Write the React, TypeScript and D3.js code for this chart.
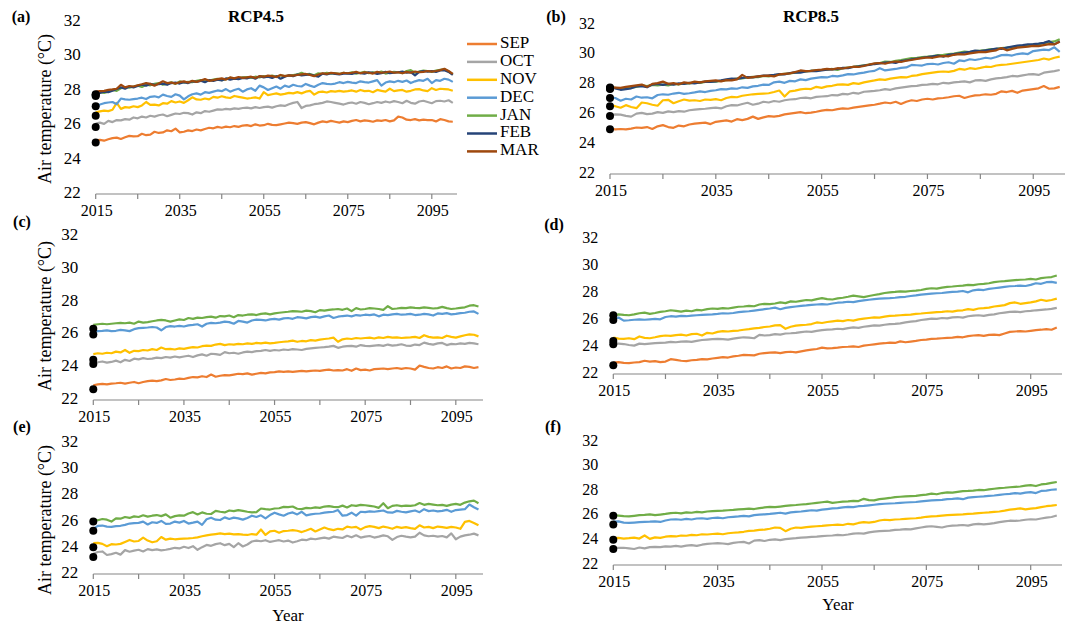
import React from "react";
import * as d3 from "d3";

// ---------- categories ----------
const YEARS: number[] = d3.range(2015, 2101);
const MONTHS = ["SEP", "OCT", "NOV", "DEC", "JAN", "FEB", "MAR"];
const COLORS: Record<string, string> = {
  SEP: "#ED7D31", OCT: "#A5A5A5", NOV: "#FFC000", DEC: "#5B9BD5",
  JAN: "#70AD47", FEB: "#264478", MAR: "#9E480E",
};
const Y_TICKS = [22, 24, 26, 28, 30, 32];
const X_TICKS = [2015, 2025, 2035, 2045, 2055, 2065, 2075, 2085, 2095];
const X_LABELS = [2015, 2035, 2055, 2075, 2095];

// ---------- observed values (black dots at 2015) ----------
const OBS_TOP: Record<string, number> = { SEP: 25.0, OCT: 25.9, NOV: 26.55, DEC: 27.1, JAN: 27.8, FEB: 27.7, MAR: 27.75 };
const OBS_MID: Record<string, number> = { SEP: 22.65, OCT: 24.2, NOV: 24.45, DEC: 26.0, JAN: 26.35 };
const OBS_BOT: Record<string, number> = { OCT: 23.3, NOV: 24.05, DEC: 25.3, JAN: 26.0 };

// ---------- (a) RCP4.5 ----------
const A_SEP = [25.12,25.15,25.10,25.18,25.25,25.28,25.20,25.30,25.38,25.35,
25.36,25.50,25.42,25.45,25.62,25.55,25.58,25.70,25.65,25.80,
25.58,25.62,25.70,25.66,25.75,25.70,25.78,25.85,25.82,25.90,
25.85,25.92,25.88,25.95,25.90,25.98,26.00,25.95,26.05,25.98,
26.00,26.08,26.02,26.00,26.05,26.10,26.15,26.12,26.08,26.15,
26.18,26.12,26.05,26.15,26.22,26.18,26.25,26.20,26.15,26.22,
26.18,26.25,26.30,26.22,26.28,26.25,26.20,26.28,26.25,26.30,
26.22,26.28,26.50,26.45,26.32,26.30,26.35,26.28,26.32,26.30,
26.30,26.22,26.35,26.30,26.22,26.20];
const A_OCT = [26.10,26.15,26.08,26.25,26.18,26.30,26.28,26.35,26.32,26.45,
26.40,26.50,26.45,26.55,26.50,26.58,26.62,26.52,26.60,26.68,
26.65,26.72,26.70,26.62,26.75,26.70,26.82,26.78,26.85,26.92,
26.90,26.95,26.92,26.98,26.95,27.00,27.02,26.98,27.05,27.00,
27.05,27.08,27.02,27.10,27.15,27.12,27.22,27.30,27.35,27.00,
27.12,27.15,27.22,27.25,27.30,27.38,27.35,27.30,27.25,27.20,
27.28,27.32,27.25,27.35,27.30,27.22,27.28,27.35,27.30,27.38,
27.32,27.40,27.35,27.28,27.42,27.30,27.25,27.38,27.42,27.35,
27.28,27.40,27.42,27.38,27.45,27.30];
const A_NOV = [26.75,26.80,26.85,26.82,26.90,27.30,26.95,27.05,27.02,27.10,
27.05,27.15,27.35,27.18,27.20,27.15,27.28,27.25,27.40,27.32,
27.38,27.30,27.45,27.62,27.50,27.48,27.55,27.50,27.65,27.60,
27.68,27.62,27.58,27.70,27.65,27.60,27.55,27.58,27.62,27.55,
27.92,27.75,27.80,27.85,27.78,27.82,27.88,27.85,27.92,27.85,
27.95,28.00,27.78,27.92,27.95,27.90,27.98,27.95,28.00,27.95,
27.98,28.02,27.95,28.05,27.98,28.00,27.92,28.05,28.00,27.95,
28.12,27.98,28.02,28.05,27.95,28.00,28.08,28.10,28.02,27.98,
28.15,28.05,28.12,28.10,28.08,28.00];
const A_DEC = [27.15,27.20,27.28,27.32,27.35,27.22,27.55,27.50,27.48,27.52,
27.55,27.60,27.52,27.65,27.68,27.62,27.78,27.70,27.65,27.80,
27.72,27.50,27.68,27.80,27.85,27.78,27.92,27.88,27.95,28.02,
27.98,28.10,27.95,28.05,28.12,27.95,28.08,28.15,28.00,28.30,
28.20,28.05,28.15,28.25,28.12,28.30,28.22,28.35,28.28,28.25,
28.40,28.30,28.22,28.35,28.45,28.40,28.38,28.42,28.50,28.45,
28.52,28.48,28.45,28.55,28.50,28.48,28.55,28.62,28.30,28.48,
28.55,28.50,28.58,28.52,28.60,28.45,28.55,28.62,28.58,28.70,
28.45,28.62,28.58,28.70,28.65,28.52];
const A_JAN = [27.85,27.92,27.88,27.95,28.05,28.00,28.15,28.22,28.18,28.25,
28.30,28.22,28.35,28.32,28.40,28.45,28.35,28.42,28.50,28.40,
28.55,28.48,28.52,28.50,28.58,28.62,28.55,28.60,28.65,28.70,
28.62,28.68,28.75,28.70,28.72,28.78,28.80,28.75,28.82,28.78,
28.85,28.80,28.88,28.82,28.90,28.85,28.88,28.92,28.95,29.05,
28.95,28.98,28.90,29.02,28.98,29.05,29.00,29.02,28.98,29.05,
29.02,29.08,29.00,29.05,29.10,29.02,29.08,29.05,29.12,29.00,
29.05,29.10,29.08,29.02,29.15,29.20,29.05,29.12,29.18,29.15,
29.10,29.18,29.22,29.25,29.12,28.95];
const A_FEB = [27.90,27.88,27.95,27.92,28.00,28.10,28.20,28.12,28.25,28.20,
28.28,28.35,28.30,28.40,28.35,28.38,28.42,28.35,28.45,28.48,
28.42,28.50,28.45,28.55,28.52,28.58,28.50,28.62,28.58,28.65,
28.60,28.72,28.65,28.70,28.68,28.75,28.72,28.80,28.70,28.85,
28.78,28.82,28.75,28.85,28.70,28.82,28.90,28.85,28.95,28.90,
28.92,28.95,28.88,28.82,29.00,28.95,29.02,28.98,28.95,29.00,
29.00,28.98,29.05,29.02,29.00,29.08,29.05,28.98,29.02,29.10,
29.02,29.05,29.08,29.12,29.05,29.08,28.90,29.10,29.15,29.12,
29.15,29.10,29.18,29.20,29.10,28.92];
const A_MAR = [27.95,27.98,28.00,28.05,28.08,28.12,28.35,28.20,28.28,28.25,
28.32,28.38,28.45,28.40,28.30,28.42,28.55,28.45,28.48,28.42,
28.50,28.55,28.48,28.58,28.52,28.60,28.68,28.58,28.62,28.68,
28.72,28.65,28.78,28.72,28.80,28.75,28.78,28.82,28.75,28.85,
28.82,28.88,28.85,28.80,28.92,28.85,28.90,28.88,28.92,28.95,
28.98,28.92,28.85,28.95,29.02,28.98,29.05,29.02,28.98,29.05,
29.02,29.05,29.10,29.02,29.08,29.05,29.00,29.10,29.05,29.08,
29.12,29.05,29.08,29.02,29.10,29.05,29.12,29.08,29.10,29.15,
29.12,29.15,29.20,29.28,29.15,28.98];

// ---------- (b) RCP8.5 ----------
const B_SEP = [25.05,25.00,25.02,25.00,25.05,25.12,25.10,25.15,25.02,25.20,
25.28,25.15,25.10,25.25,25.20,25.32,25.38,25.42,25.45,25.35,
25.50,25.55,25.60,25.52,25.68,25.62,25.70,25.85,25.70,25.80,
25.88,25.85,25.90,26.00,26.05,26.10,26.15,26.08,26.12,26.18,
26.25,26.30,26.28,26.35,26.40,26.38,26.45,26.50,26.55,26.60,
26.65,26.72,26.80,26.75,26.85,26.70,26.85,26.95,26.90,27.00,
27.05,27.00,27.08,27.10,27.15,27.22,27.25,27.10,27.20,27.28,
27.30,27.35,27.32,27.38,27.55,27.50,27.58,27.45,27.60,27.65,
27.70,27.75,27.90,27.72,27.75,27.85];
const B_OCT = [25.92,26.00,25.98,25.90,25.85,26.05,26.10,26.02,26.05,26.15,
26.10,26.20,26.15,26.22,26.18,26.28,26.32,26.35,26.38,26.42,
26.45,26.40,26.55,26.62,26.60,26.70,26.78,26.65,26.72,26.85,
26.80,26.90,26.85,26.95,27.00,27.02,27.10,27.12,27.08,27.18,
27.20,27.22,27.30,27.28,27.38,27.35,27.45,27.40,27.52,27.55,
27.58,27.62,27.70,27.65,27.75,27.80,27.85,27.90,27.92,27.98,
28.00,28.05,28.02,28.12,28.08,28.15,28.18,28.22,28.15,28.28,
28.30,28.25,28.35,28.42,28.45,28.50,28.58,28.55,28.62,28.68,
28.70,28.65,28.80,28.85,28.90,28.98];
const B_NOV = [26.60,26.55,26.45,26.62,26.50,26.42,26.80,26.75,26.65,26.58,
26.95,26.98,26.75,26.88,27.00,26.92,26.95,26.90,27.00,26.98,
27.02,26.95,27.10,27.18,27.15,27.25,27.30,27.35,27.38,27.40,
27.42,27.50,27.60,27.20,27.55,27.60,27.68,27.72,27.70,27.85,
27.78,27.88,27.92,28.00,28.02,27.98,28.10,28.05,28.15,28.22,
28.28,28.35,28.32,28.40,28.45,28.50,28.48,28.58,28.62,28.70,
28.75,28.80,28.85,28.88,28.85,28.92,29.05,29.00,29.10,29.05,
29.12,29.20,29.18,29.28,29.32,29.35,29.40,29.45,29.50,29.55,
29.60,29.65,29.75,29.68,29.80,29.88];
const B_DEC = [27.15,27.10,26.92,27.05,27.00,27.20,27.12,27.15,27.08,27.30,
27.35,27.32,27.40,27.45,27.38,27.42,27.48,27.55,27.50,27.58,
27.62,27.70,27.68,27.75,27.72,27.82,27.78,27.88,27.92,28.00,
27.98,28.15,28.20,28.12,28.25,28.22,28.35,28.30,28.40,28.45,
28.50,28.48,28.58,28.55,28.62,28.70,28.68,28.75,28.80,28.88,
28.92,29.10,28.95,29.00,29.05,29.12,29.15,29.32,29.30,29.28,
29.38,29.40,29.35,29.45,29.50,29.40,29.62,29.58,29.70,29.65,
29.72,29.80,29.75,29.85,29.98,30.00,29.95,30.05,30.10,30.05,
30.25,30.30,30.35,30.32,30.50,30.20];
const B_JAN = [27.80,27.78,27.72,27.75,27.80,27.85,27.95,27.90,27.98,27.95,
28.00,27.95,28.05,28.02,28.10,28.08,28.15,28.12,28.18,28.22,
28.20,28.25,28.30,28.35,28.40,28.42,28.48,28.52,28.50,28.58,
28.55,28.62,28.68,28.72,28.75,28.80,28.85,28.88,28.92,28.95,
28.98,29.00,29.05,28.98,29.10,29.15,29.20,29.25,29.30,29.35,
29.40,29.45,29.55,29.52,29.60,29.65,29.72,29.78,29.80,29.85,
29.88,29.92,29.98,30.00,30.05,30.08,30.15,30.22,30.18,30.25,
30.28,30.32,30.38,30.40,30.45,30.48,30.52,30.55,30.60,30.62,
30.68,30.72,30.78,30.85,30.90,31.05];
const B_FEB = [27.85,27.75,27.65,27.70,27.75,27.88,27.90,27.82,28.00,28.05,
27.98,28.05,28.00,28.08,28.05,28.12,28.08,28.15,28.20,28.18,
28.22,28.28,28.35,28.40,28.38,28.45,28.50,28.48,28.55,28.60,
28.62,28.65,28.70,28.68,28.78,28.82,28.80,28.88,28.92,28.90,
28.95,29.00,29.02,29.05,29.12,29.10,29.18,29.22,29.28,29.32,
29.38,29.42,29.48,29.50,29.45,29.58,29.62,29.70,29.75,29.80,
29.85,29.90,29.95,29.88,30.00,30.05,30.10,30.15,30.20,30.28,
30.25,30.30,30.35,30.42,30.40,30.48,30.55,30.62,30.65,30.70,
30.72,30.75,30.80,30.92,30.70,30.90];
const B_MAR = [27.82,27.80,27.78,27.85,27.90,27.95,28.00,27.85,28.05,28.10,
28.20,28.05,28.10,28.02,28.15,28.10,28.20,28.15,28.22,28.25,
28.28,28.22,28.30,28.28,28.35,28.65,28.45,28.50,28.55,28.58,
28.60,28.55,28.68,28.72,28.75,28.85,28.95,28.90,28.92,28.98,
29.00,29.05,29.02,29.10,29.08,29.15,29.20,29.18,29.25,29.35,
29.42,29.45,29.40,29.50,29.55,29.52,29.60,29.65,29.72,29.78,
29.82,29.80,29.88,29.92,29.90,30.00,30.05,30.02,30.10,30.15,
30.20,30.18,30.25,30.30,30.45,30.30,30.40,30.48,30.52,30.55,
30.60,30.58,30.65,30.72,30.70,30.88];

// ---------- (c) RCP4.5 ----------
const C_SEP = [22.90,22.95,22.98,22.95,23.00,23.02,23.05,23.00,23.05,23.10,
23.02,23.10,23.15,23.18,23.15,23.20,23.28,23.22,23.25,23.30,
23.28,23.35,23.40,23.38,23.45,23.40,23.55,23.42,23.48,23.52,
23.50,23.55,23.60,23.58,23.62,23.55,23.60,23.65,23.62,23.68,
23.70,23.75,23.72,23.75,23.72,23.75,23.78,23.75,23.78,23.80,
23.78,23.82,23.85,23.80,23.82,23.80,23.88,23.78,23.92,23.82,
23.85,23.80,23.88,23.90,23.92,23.88,23.92,23.95,23.90,23.95,
23.92,23.85,24.10,24.02,23.95,23.92,24.00,23.95,24.05,23.92,
23.98,23.95,24.05,24.02,23.95,24.00];
const C_OCT = [24.22,24.30,24.35,24.28,24.32,24.40,24.30,24.45,24.38,24.52,
24.48,24.55,24.50,24.52,24.58,24.55,24.62,24.58,24.65,24.60,
24.65,24.70,24.62,24.72,24.78,24.70,24.82,24.80,24.75,24.92,
24.85,24.88,24.82,24.90,24.95,24.92,24.98,25.00,25.05,25.00,
25.05,25.02,25.08,25.05,25.10,25.08,25.05,25.12,25.15,25.18,
25.20,25.22,25.25,25.30,25.18,25.25,25.28,25.30,25.25,25.35,
25.30,25.28,25.32,25.35,25.30,25.38,25.32,25.35,25.40,25.32,
25.30,25.38,25.35,25.50,25.42,25.38,25.45,25.48,25.35,25.42,
25.40,25.45,25.42,25.48,25.45,25.40];
const C_NOV = [24.80,24.85,24.82,24.88,24.85,24.95,24.90,25.05,24.88,25.00,
24.98,25.05,25.02,25.10,25.05,25.20,25.10,25.12,25.08,25.15,
25.12,25.18,25.22,25.20,25.28,25.32,25.30,25.38,25.42,25.35,
25.40,25.38,25.42,25.40,25.45,25.42,25.48,25.45,25.50,25.45,
25.48,25.52,25.55,25.58,25.62,25.55,25.60,25.58,25.65,25.62,
25.68,25.72,25.75,25.80,25.55,25.70,25.75,25.72,25.78,25.75,
25.78,25.80,25.75,25.82,25.78,25.85,25.80,25.82,25.78,25.80,
25.82,25.85,25.78,25.95,25.85,25.80,25.82,25.78,25.92,25.85,
25.80,25.88,25.95,26.00,25.98,25.88];
const C_DEC = [26.15,26.20,26.22,26.25,26.20,26.22,26.28,26.25,26.20,26.32,
26.38,26.40,26.42,26.45,26.42,26.25,26.45,26.50,26.48,26.52,
26.48,26.55,26.58,26.62,26.48,26.65,26.70,26.68,26.72,26.78,
26.75,26.65,26.82,26.78,26.72,26.85,26.90,26.88,26.85,26.92,
26.95,26.90,26.98,27.00,26.95,27.05,27.02,26.98,27.05,27.08,
27.02,27.10,27.15,27.00,27.08,27.12,27.15,27.10,27.18,27.15,
27.20,27.18,27.22,27.10,27.20,27.18,27.22,27.25,27.20,27.22,
27.25,27.18,27.20,27.25,27.22,27.15,27.28,27.25,27.30,27.22,
27.25,27.30,27.32,27.38,27.40,27.25];
const C_JAN = [26.58,26.62,26.65,26.62,26.65,26.68,26.70,26.68,26.72,26.65,
26.78,26.72,26.75,26.80,26.85,26.88,26.85,26.78,26.85,26.92,
26.88,27.00,26.95,27.02,27.00,27.05,27.08,27.02,27.12,27.10,
27.15,27.05,27.18,27.15,27.20,27.22,27.18,27.25,27.28,27.22,
27.28,27.32,27.35,27.38,27.42,27.40,27.38,27.45,27.42,27.35,
27.48,27.45,27.50,27.52,27.55,27.50,27.58,27.42,27.60,27.52,
27.55,27.60,27.58,27.55,27.50,27.72,27.55,27.58,27.62,27.60,
27.65,27.62,27.60,27.65,27.62,27.58,27.60,27.68,27.60,27.55,
27.58,27.62,27.65,27.75,27.78,27.70];

// ---------- (d) RCP8.5 ----------
const D_SEP = [22.85,22.88,22.82,22.80,22.85,22.88,22.98,22.92,22.95,22.88,
22.92,23.10,23.05,22.98,22.95,23.02,23.05,23.10,23.08,23.15,
23.20,23.25,23.22,23.30,23.35,23.42,23.40,23.38,23.50,23.55,
23.58,23.60,23.55,23.62,23.65,23.60,23.68,23.75,23.80,23.85,
23.95,23.90,23.92,23.95,24.00,24.02,24.05,24.00,24.10,24.15,
24.20,24.25,24.28,24.32,24.30,24.42,24.35,24.40,24.45,24.52,
24.55,24.60,24.62,24.65,24.68,24.70,24.75,24.72,24.80,24.85,
24.88,24.82,24.90,24.92,24.88,25.00,25.12,25.15,25.18,25.15,
25.20,25.25,25.28,25.32,25.28,25.45];
const D_OCT = [24.28,24.25,24.22,24.15,24.10,24.25,24.22,24.25,24.28,24.30,
24.32,24.38,24.35,24.40,24.42,24.38,24.45,24.52,24.55,24.58,
24.60,24.58,24.55,24.62,24.68,24.72,24.70,24.65,24.90,24.85,
24.88,24.95,24.92,25.00,25.02,25.05,25.10,25.15,25.12,25.20,
25.25,25.28,25.30,25.35,25.32,25.40,25.45,25.42,25.50,25.55,
25.60,25.58,25.65,25.70,25.72,25.75,25.82,25.88,25.92,26.00,
26.05,26.10,26.08,26.15,26.12,26.20,26.22,26.18,26.28,26.32,
26.35,26.30,26.38,26.42,26.50,26.55,26.60,26.62,26.58,26.65,
26.68,26.72,26.75,26.78,26.82,26.90];
const D_NOV = [24.70,24.62,24.60,24.65,24.58,24.78,24.68,24.65,24.72,24.80,
24.85,24.82,24.88,24.92,24.85,24.95,24.98,24.85,25.05,25.00,
25.12,25.18,25.15,25.20,25.22,25.28,25.32,25.38,25.42,25.48,
25.52,25.60,25.62,25.35,25.50,25.58,25.62,25.65,25.70,25.82,
25.78,25.85,25.90,25.95,25.92,26.00,25.95,26.05,26.10,26.15,
26.20,26.18,26.25,26.30,26.32,26.35,26.38,26.40,26.45,26.48,
26.52,26.55,26.58,26.60,26.65,26.62,26.70,26.72,26.80,26.75,
26.85,26.88,26.92,27.00,27.05,27.10,27.25,27.30,27.20,27.25,
27.30,27.38,27.50,27.42,27.48,27.58];
const D_DEC = [26.15,26.18,25.95,25.98,26.02,26.05,26.02,26.05,26.08,26.05,
26.22,26.28,26.25,26.30,26.28,26.32,26.35,26.38,26.40,26.42,
26.45,26.50,26.48,26.52,26.58,26.62,26.65,26.70,26.75,26.80,
26.85,26.92,26.80,26.90,26.95,27.00,27.05,27.08,27.12,27.15,
27.18,27.15,27.22,27.28,27.30,27.35,27.32,27.40,27.45,27.50,
27.55,27.58,27.60,27.62,27.65,27.70,27.72,27.78,27.82,27.88,
27.92,27.95,27.98,28.00,28.05,28.08,28.10,28.15,28.05,28.20,
28.25,28.22,28.30,28.35,28.40,28.45,28.50,28.52,28.55,28.52,
28.60,28.72,28.68,28.80,28.82,28.75];
const D_JAN = [26.35,26.42,26.38,26.35,26.42,26.50,26.55,26.45,26.52,26.60,
26.65,26.72,26.68,26.62,26.70,26.65,26.75,26.72,26.80,26.85,
26.82,26.88,26.85,26.92,26.98,27.00,27.05,27.02,27.15,27.20,
27.18,27.22,27.30,27.25,27.38,27.35,27.42,27.48,27.45,27.55,
27.62,27.55,27.52,27.60,27.65,27.72,27.80,27.75,27.70,27.78,
27.85,27.92,28.00,28.05,28.08,28.12,28.10,28.15,28.18,28.22,
28.30,28.35,28.32,28.40,28.45,28.48,28.52,28.55,28.60,28.58,
28.65,28.68,28.72,28.80,28.85,28.88,28.92,28.95,28.98,29.00,
29.05,29.00,29.10,29.15,29.18,29.30];

// ---------- (e) RCP4.5 ----------
const E_OCT = [23.55,23.68,23.72,23.45,23.52,23.62,23.48,23.82,23.70,23.78,
23.85,23.72,23.90,23.82,23.88,23.80,23.85,23.92,24.00,23.95,
24.08,23.98,24.12,23.85,24.05,24.22,24.15,24.28,24.35,24.20,
24.30,24.05,24.35,24.10,24.25,24.48,24.55,24.50,24.58,24.45,
24.52,24.58,24.48,24.55,24.40,24.50,24.62,24.58,24.70,24.65,
24.72,24.78,24.70,24.85,24.80,24.75,24.92,24.80,24.95,24.78,
24.85,24.90,24.78,24.85,24.95,24.88,24.60,24.82,24.92,24.85,
24.80,24.85,25.15,24.95,24.88,24.92,24.85,24.90,24.80,25.10,
24.65,24.85,24.95,25.00,25.08,24.95];
const E_NOV = [24.35,24.38,24.30,24.12,24.28,24.25,24.30,24.45,24.60,24.48,
24.52,24.78,24.55,24.42,24.50,24.82,24.62,24.70,24.65,24.68,
24.70,24.72,24.75,24.80,24.88,24.95,25.00,25.05,25.10,25.05,
25.08,25.02,25.05,25.00,24.98,25.05,25.00,25.40,24.98,25.25,
25.30,25.15,25.28,25.30,25.35,25.30,25.20,25.32,25.45,25.25,
25.40,25.55,25.42,25.35,25.45,25.40,25.62,25.55,25.60,25.40,
25.58,25.65,25.60,25.50,25.62,25.55,25.45,25.60,25.52,25.58,
25.50,25.45,25.72,25.55,25.60,25.50,25.62,25.58,25.52,25.60,
25.55,25.45,25.98,26.05,25.90,25.72];
const E_DEC = [25.45,25.68,25.70,25.62,25.60,25.65,25.68,25.75,25.85,25.88,
25.90,26.00,25.78,25.95,25.90,26.05,25.82,25.85,26.00,25.92,
26.05,25.85,25.92,26.00,25.75,26.18,26.30,26.15,26.12,26.32,
26.20,26.30,26.25,26.15,26.28,26.45,26.35,26.48,26.25,26.50,
26.68,26.55,26.45,26.62,26.70,26.55,26.75,26.48,26.55,26.60,
26.62,26.68,26.72,26.75,26.88,26.45,26.50,26.68,26.45,26.75,
26.72,26.78,26.75,26.80,26.85,26.70,26.68,26.82,26.75,26.70,
26.78,26.85,26.72,26.95,26.80,26.85,26.78,26.82,26.90,26.75,
26.88,26.92,26.95,27.30,27.10,26.92];
const E_JAN = [26.18,26.10,26.20,26.15,26.00,26.25,26.22,26.35,26.28,26.40,
26.35,26.48,26.38,26.45,26.50,26.42,26.55,26.30,26.42,26.48,
26.45,26.62,26.72,26.55,26.70,26.60,26.58,26.82,26.75,26.70,
26.85,26.80,26.88,26.82,26.75,26.70,26.72,27.00,26.95,26.92,
27.00,27.02,27.12,27.10,27.15,26.98,26.95,27.05,27.02,27.08,
27.05,27.15,27.18,27.12,27.10,27.22,27.08,27.25,27.20,27.28,
27.25,27.20,27.15,27.05,27.40,27.02,27.20,27.25,27.18,27.22,
27.20,27.25,27.42,27.28,27.35,27.30,27.25,27.28,27.20,27.30,
27.35,27.28,27.45,27.55,27.60,27.40];

// ---------- (f) RCP8.5 ----------
const F_OCT = [23.38,23.40,23.40,23.35,23.30,23.42,23.35,23.45,23.48,23.45,
23.52,23.50,23.55,23.50,23.58,23.62,23.55,23.65,23.72,23.75,
23.78,23.75,23.70,23.80,23.85,23.88,23.75,23.98,24.02,23.95,
24.05,24.08,24.02,24.10,24.15,24.18,24.22,24.25,24.28,24.30,
24.35,24.38,24.40,24.45,24.42,24.48,24.55,24.58,24.55,24.65,
24.72,24.75,24.78,24.80,24.85,24.88,24.92,24.90,24.98,25.05,
25.12,25.15,25.10,25.05,25.15,25.20,25.22,25.25,25.20,25.30,
25.35,25.30,25.35,25.40,25.48,25.55,25.60,25.58,25.62,25.68,
25.72,25.70,25.78,25.85,25.90,26.02];
const F_NOV = [24.18,24.20,24.15,24.18,24.22,24.15,24.40,24.12,24.25,24.20,
24.30,24.35,24.32,24.40,24.38,24.45,24.42,24.50,24.48,24.52,
24.55,24.50,24.58,24.62,24.65,24.70,24.78,24.80,24.85,24.88,
24.95,25.05,25.02,24.75,24.95,25.05,25.02,25.08,25.12,25.15,
25.18,25.22,25.25,25.28,25.25,25.35,25.30,25.42,25.48,25.45,
25.50,25.62,25.68,25.65,25.70,25.72,25.75,25.78,25.80,25.85,
25.92,25.95,25.98,26.02,26.05,26.08,26.10,26.12,26.15,26.18,
26.22,26.25,26.28,26.32,26.35,26.42,26.50,26.55,26.60,26.52,
26.58,26.62,26.70,26.78,26.82,26.88];
const F_DEC = [25.52,25.55,25.45,25.42,25.45,25.48,25.50,25.52,25.55,25.50,
25.62,25.70,25.72,25.68,25.75,25.70,25.78,25.80,25.75,25.82,
25.85,25.80,25.88,25.92,25.95,26.00,25.95,26.05,26.10,26.12,
26.15,26.20,26.25,26.18,26.28,26.32,26.35,26.40,26.45,26.42,
26.50,26.55,26.60,26.62,26.68,26.72,26.70,26.78,26.80,26.85,
26.90,26.95,26.98,27.00,27.02,27.05,27.08,27.10,27.12,27.18,
27.22,27.25,27.28,27.30,27.35,27.38,27.42,27.35,27.48,27.52,
27.55,27.58,27.62,27.65,27.70,27.75,27.78,27.85,27.80,27.88,
27.92,27.85,28.02,28.05,28.12,28.15];
const F_JAN = [26.05,26.02,25.98,25.95,26.00,26.05,26.08,26.12,26.05,26.10,
26.15,26.22,26.25,26.20,26.28,26.25,26.32,26.28,26.35,26.38,
26.40,26.42,26.45,26.48,26.52,26.55,26.58,26.55,26.62,26.68,
26.72,26.70,26.75,26.80,26.85,26.88,26.92,26.95,27.00,27.05,
27.10,27.15,27.05,27.10,27.15,27.18,27.22,27.20,27.38,27.28,
27.25,27.35,27.40,27.45,27.52,27.55,27.58,27.60,27.62,27.68,
27.72,27.80,27.75,27.85,27.90,27.88,27.95,28.00,28.02,28.05,
28.10,28.08,28.15,28.20,28.25,28.28,28.32,28.35,28.38,28.45,
28.50,28.42,28.55,28.60,28.68,28.75];

// ---------- panel layout ----------
type Panel = {
  tag: string; title?: string; titleX?: number; series: Record<string, number[]>; obs: Record<string, number>;
  x0: number; x1: number; yB: number; yT: number; tagX: number; tagY: number;
  yTitle?: number; yearLabel?: number; yearX?: number; tickFont: number; legend?: boolean;
};

const PANELS: Panel[] = [
  { tag: "(a)", title: "RCP4.5", titleX: 256, series: { SEP: A_SEP, OCT: A_OCT, NOV: A_NOV, DEC: A_DEC, JAN: A_JAN, FEB: A_FEB, MAR: A_MAR },
    obs: OBS_TOP, x0: 95.7, x1: 457, yB: 194, yT: 22, tagX: 21, tagY: 18, yTitle: 109, tickFont: 17, legend: true },
  { tag: "(b)", title: "RCP8.5", titleX: 811, series: { SEP: B_SEP, OCT: B_OCT, NOV: B_NOV, DEC: B_DEC, JAN: B_JAN, FEB: B_FEB, MAR: B_MAR },
    obs: OBS_TOP, x0: 610, x1: 1065, yB: 174, yT: 25, tagX: 556, tagY: 18, tickFont: 16 },
  { tag: "(c)", series: { SEP: C_SEP, OCT: C_OCT, NOV: C_NOV, DEC: C_DEC, JAN: C_JAN },
    obs: OBS_MID, x0: 93.3, x1: 483, yB: 400, yT: 236, tagX: 22, tagY: 223, yTitle: 316, tickFont: 17 },
  { tag: "(d)", series: { SEP: D_SEP, OCT: D_OCT, NOV: D_NOV, DEC: D_DEC, JAN: D_JAN },
    obs: OBS_MID, x0: 613.3, x1: 1062, yB: 374, yT: 239, tagX: 554, tagY: 226, tickFont: 16 },
  { tag: "(e)", series: { OCT: E_OCT, NOV: E_NOV, DEC: E_DEC, JAN: E_JAN },
    obs: OBS_BOT, x0: 93.3, x1: 483, yB: 574, yT: 443, tagX: 22, tagY: 428, yTitle: 520, yearLabel: 617, yearX: 288, tickFont: 17 },
  { tag: "(f)", series: { OCT: F_OCT, NOV: F_NOV, DEC: F_DEC, JAN: F_JAN },
    obs: OBS_BOT, x0: 613.3, x1: 1062, yB: 565, yT: 442, tagX: 553, tagY: 428, yearLabel: 606, yearX: 838, tickFont: 16 },
];

const FONT = "Liberation Serif, Times New Roman, serif";
const AXIS = "#868686";

function PanelView({ p }: { p: Panel }) {
  const x = d3.scaleLinear().domain([2015, 2101]).range([p.x0, p.x1]);
  const y = d3.scaleLinear().domain([22, 32]).range([p.yB, p.yT]);
  const line = d3.line<number>().x((_, i) => x(YEARS[i])).y((v) => y(v));
  const keys = MONTHS.filter((m) => p.series[m]);
  return (
    <g>
      <text x={p.tagX} y={p.tagY} fontWeight="bold" fontSize={16} textAnchor="middle" dominantBaseline="middle">{p.tag}</text>
      {p.title && (
        <text x={p.titleX} y={18} fontWeight="bold" fontSize={17} textAnchor="middle" dominantBaseline="middle">{p.title}</text>
      )}
      {Y_TICKS.map((t) => (
        <text key={t} x={p.x0 - 15} y={y(t)} fontSize={p.tickFont} textAnchor="end" dominantBaseline="middle">{t}</text>
      ))}
      {p.yTitle !== undefined && (
        <text transform={`translate(47,${p.yTitle}) rotate(-90)`} fontSize={18} textAnchor="middle" dominantBaseline="middle">Air temperature (°C)</text>
      )}
      <line x1={p.x0} x2={p.x1} y1={p.yB} y2={p.yB} stroke={AXIS} strokeWidth={1.2} />
      {X_TICKS.map((t) => (
        <line key={t} x1={x(t)} x2={x(t)} y1={p.yB} y2={p.yB + 5} stroke={AXIS} strokeWidth={1.2} />
      ))}
      {X_LABELS.map((t) => (
        <text key={t} x={x(t) + 1} y={p.yB + 18} fontSize={16} textAnchor="middle" dominantBaseline="middle">{t}</text>
      ))}
      {p.yearLabel !== undefined && (
        <text x={p.yearX} y={p.yearLabel} fontSize={17} textAnchor="middle" dominantBaseline="middle">Year</text>
      )}
      {keys.map((m) => (
        <path key={m} d={line(p.series[m]) || ""} fill="none" stroke={COLORS[m]} strokeWidth={2.2} strokeLinejoin="round" />
      ))}
      {keys.map((m) => (
        <circle key={m} cx={x(2015)} cy={y(p.obs[m])} r={4} fill="#000" />
      ))}
      {p.legend && MONTHS.map((m, i) => (
        <g key={m}>
          <line x1={467} x2={497} y1={44 + i * 17.9} y2={44 + i * 17.9} stroke={COLORS[m]} strokeWidth={2.5} />
          <text x={500} y={44 + i * 17.9} fontSize={17} dominantBaseline="middle">{m}</text>
        </g>
      ))}
    </g>
  );
}

export default function App() {
  return (
    <svg width={1070} height={625} fontFamily={FONT} style={{ position: "absolute", left: 0, top: 0, background: "#fff", fontFamily: FONT }}>
      <rect width={1070} height={625} fill="#fff" />
      {PANELS.map((p) => <PanelView key={p.tag} p={p} />)}
    </svg>
  );
}
